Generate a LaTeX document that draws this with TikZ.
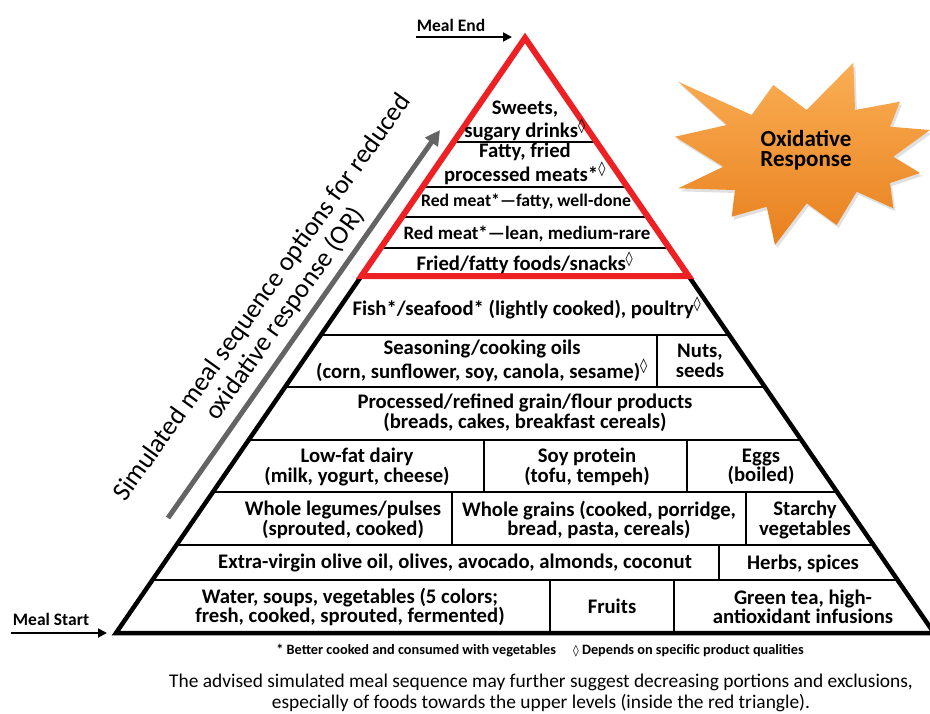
\documentclass[tikz,border=0pt]{standalone}
\usepackage{fontspec}
\setmainfont{Carlito}
\newfontfamily\djv{DejaVu Sans}
\usetikzlibrary{arrows.meta,calc}
\definecolor{redtri}{RGB}{237,32,36}
\definecolor{greyarrow}{RGB}{100,100,100}
\definecolor{starlight}{RGB}{250,174,84}
\definecolor{stardark}{RGB}{232,128,30}
\newcommand\lozsup{\textsuperscript{\djv ◊}}
\begin{document}
\begin{tikzpicture}[x=1pt,y=-1pt,
  lbl/.style={font=\bfseries\fontsize{20.7}{19.5}\selectfont,align=center,inner sep=0pt,text=black},
  rowline/.style={line width=2.6pt},
  divider/.style={line width=2pt},
  sidetxt/.style={font=\bfseries\fontsize{17.5}{17.5}\selectfont,inner sep=0pt},
  conn/.style={line width=1.8pt,-{Triangle[width=9pt,length=9pt]}}]
\useasboundingbox (0,0) rectangle (930,713);
% pyramid
\coordinate (A) at (525,38);
\coordinate (BL) at (116,633);
\coordinate (BR) at (934,633);
\draw[line width=4.5pt,line join=miter] (A) -- (BL) -- (BR) -- cycle;
\foreach \yy in {142,187,217,248,335,387,440,492,545,580}{
  \pgfmathsetmacro{\rowfrac}{(\yy-38)/595}
  \draw[rowline] ($(A)!\rowfrac!(BL)$) -- ($(A)!\rowfrac!(BR)$);
}
% dividers
\draw[divider] (657,335) -- (657,387);
\draw[divider] (484,440) -- (484,492);
\draw[divider] (687,440) -- (687,492);
\draw[divider] (452,492) -- (452,545);
\draw[divider] (746,492) -- (746,545);
\draw[divider] (719,545) -- (719,580);
\draw[divider] (550,580) -- (550,633);
\draw[divider] (674,580) -- (674,633);
% red triangle
\draw[redtri,line width=6pt,line join=miter] (A) -- ($(A)!0.4!(BL)$) -- ($(A)!0.4!(BR)$) -- cycle;
% labels
\node[lbl] (sweets) at (525,121) {Sweets,\\sugary drinks\lozsup};
\node[lbl] (fatty) at (525,164) {Fatty, fried\\processed meats*\lozsup};
\node[lbl,font=\bfseries\fontsize{17.7}{17.7}\selectfont] (redfat) at (526,202) {Red meat*—fatty, well-done};
\node[lbl,font=\bfseries\fontsize{18.9}{18.9}\selectfont] (redlean) at (527,234) {Red meat*—lean, medium-rare};
\node[lbl] (fried) at (525,263) {Fried/fatty foods/snacks\lozsup};
\node[lbl] (fish) at (527,308) {Fish*/seafood* (lightly cooked), poultry\lozsup};
\node[lbl] (season) at (482,361) {Seasoning/cooking oils\\(corn, sunflower, soy, canola, sesame)\lozsup};
\node[lbl] (nuts) at (700,361) {Nuts,\\seeds};
\node[lbl] (processed) at (525,413) {Processed/refined grain/flour products\\(breads, cakes, breakfast cereals)};
\node[lbl] (dairy) at (357,467) {Low-fat dairy\\(milk, yogurt, cheese)};
\node[lbl] (soy) at (587,467) {Soy protein\\(tofu, tempeh)};
\node[lbl] (eggs) at (761,467) {Eggs\\(boiled)};
\node[lbl] (legumes) at (343,520) {Whole legumes/pulses\\(sprouted, cooked)};
\node[lbl] (wgrains) at (599,520) {Whole grains (cooked, porridge,\\bread, pasta, cereals)};
\node[lbl] (starchy) at (805,520) {Starchy\\vegetables};
\node[lbl] (evoo) at (455,563) {Extra-virgin olive oil, olives, avocado, almonds, coconut};
\node[lbl] (herbs) at (803,564) {Herbs, spices};
\node[lbl] (water) at (350,607) {Water, soups, vegetables (5 colors;\\fresh, cooked, sprouted, fermented)};
\node[lbl] (fruits) at (612,606) {Fruits};
\node[lbl] (greentea) at (803,607) {Green tea, high-\\antioxidant infusions};
% star
\fill[black!12] (680.3,84.7) -- (753.7,118) -- (775.3,88) -- (808.7,113) -- (855.3,65.7) -- (857,113) -- (902,104.7) -- (892,129.7) -- (932,133) -- (895.3,159.7) -- (922,176) -- (892,186) -- (895.3,211.3) -- (858.7,194.7) -- (838.7,228) -- (808.7,206.3) -- (777,248) -- (768.7,209.7) -- (733.7,219.7) -- (737,193) -- (680.3,191.3) -- (725.3,169.7) -- (677,139.7) -- (728.7,128) -- cycle;
\shade[top color=starlight,bottom color=stardark] (678.3,81.7) -- (751.7,115) -- (773.3,85) -- (806.7,110) -- (853.3,62.7) -- (855,110) -- (900,101.7) -- (890,126.7) -- (930,130) -- (893.3,156.7) -- (920,173) -- (890,183) -- (893.3,208.3) -- (856.7,191.7) -- (836.7,225) -- (806.7,203.3) -- (775,245) -- (766.7,206.7) -- (731.7,216.7) -- (735,190) -- (678.3,188.3) -- (723.3,166.7) -- (675,136.7) -- (726.7,125) -- cycle;
\node[font=\bfseries\fontsize{23}{20}\selectfont,align=center,inner sep=0pt] (ox) at (806,150) {Oxidative\\Response};
% grey arrow and rotated text
\coordinate (gs) at (168,518);
\coordinate (ge) at (440,130);
\draw[greyarrow,line width=5pt,-{Triangle[width=15pt,length=15pt]}] (gs) -- (ge);
\node[rotate=54.5,font=\fontsize{26.5}{28}\selectfont,align=center,inner sep=0pt] (simtext) at (274,306) {Simulated meal sequence options for reduced\\oxidative response (OR)};
% meal end / start
\node[sidetxt] (mealend) at (451,25) {Meal End};
\coordinate (meA) at (416,37);
\coordinate (meB) at (512,37);
\draw[conn] (meA) -- (meB);
\node[sidetxt] (mealstart) at (51,619) {Meal Start};
\coordinate (msA) at (11,633);
\coordinate (msB) at (107,633);
\draw[conn] (msA) -- (msB);
% footnotes
\node[font=\bfseries\fontsize{14.3}{14.3}\selectfont,inner sep=0pt] (foot) at (540,651) {* Better cooked and consumed with vegetables\hspace{1.2em}{\djv\fontsize{11.5}{11.5}\selectfont ◊} Depends on specific product qualities};
\node[font=\fontsize{19.4}{21}\selectfont,align=center,inner sep=0pt] (advice) at (541,693) {The advised simulated meal sequence may further suggest decreasing portions and exclusions,\\especially of foods towards the upper levels (inside the red triangle).};
\end{tikzpicture}
\end{document}
